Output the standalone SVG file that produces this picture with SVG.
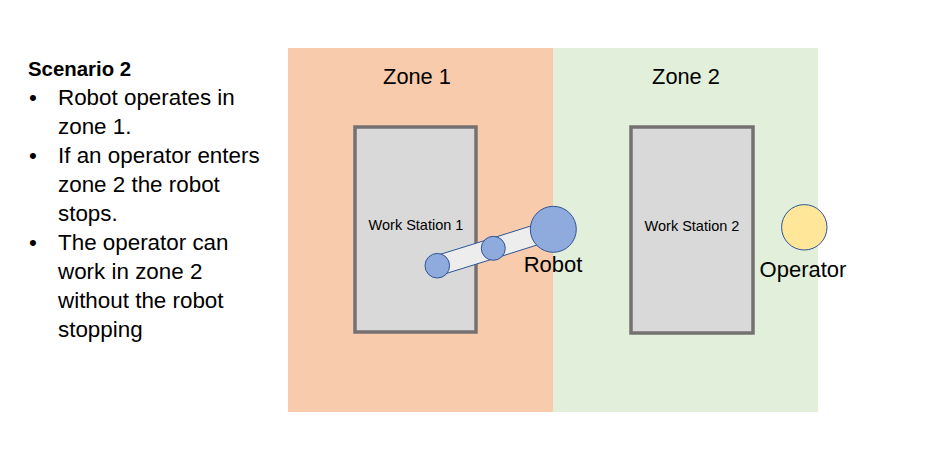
<svg xmlns="http://www.w3.org/2000/svg" width="928" height="458" viewBox="0 0 928 458">
<style>
text{font-family:"Liberation Sans",Arial,sans-serif;fill:#000}
.body{font-size:22.4px}
.head{font-size:20.4px;font-weight:bold}
.zone{font-size:21.8px;text-anchor:middle}
.ws{fill:#D9D9D9;stroke:#767171;stroke-width:3.5}
.wsl{font-size:14.5px;text-anchor:middle}
.joint{fill:#8FAADC;stroke:#2F5597;stroke-width:1}
.bar{fill:#EDEDED;stroke:#2F5597;stroke-width:1}
.lbl{font-size:22px;text-anchor:middle}
</style>
<rect width="928" height="458" fill="#fff"/>
<g id="description">
<text class="head" x="28" y="76">Scenario 2</text>
<text class="body" x="29" y="105">•</text><text class="body" x="58" y="105">Robot operates in</text>
<text class="body" x="58" y="134">zone 1.</text>
<text class="body" x="29" y="163">•</text><text class="body" x="58" y="163">If an operator enters</text>
<text class="body" x="58" y="192">zone 2 the robot</text>
<text class="body" x="58" y="221">stops.</text>
<text class="body" x="29" y="250">•</text><text class="body" x="58" y="250">The operator can</text>
<text class="body" x="58" y="279">work in zone 2</text>
<text class="body" x="58" y="308">without the robot</text>
<text class="body" x="58" y="337">stopping</text>
</g>
<g id="zone1">
<rect x="288" y="48" width="265" height="364" fill="#F8CBAD"/>
<text class="zone" x="417" y="84">Zone 1</text>
</g>
<g id="zone2">
<rect x="553" y="48" width="265" height="364" fill="#E2EFDA"/>
<text class="zone" x="686" y="84">Zone 2</text>
</g>
<g id="workstation1">
<rect class="ws" x="355" y="127" width="121" height="205"/>
<text class="wsl" x="416" y="230">Work Station 1</text>
</g>
<g id="workstation2">
<rect class="ws" x="631" y="127" width="122" height="206"/>
<text class="wsl" x="692" y="231">Work Station 2</text>
</g>
<g id="robot">
<polygon class="bar" points="490.3,238.8 550.3,219.8 556.3,238.9 496.3,257.9"/>
<polygon class="bar" points="434.3,256.2 490.3,238.8 496.3,257.9 440.3,275.3"/>
<circle class="joint" cx="553.3" cy="229.3" r="23"/>
<circle class="joint" cx="493.3" cy="248.3" r="12"/>
<circle class="joint" cx="437.3" cy="265.7" r="12.3"/>
<text class="lbl" x="553" y="272">Robot</text>
</g>
<g id="operator">
<circle cx="804.3" cy="227.3" r="22.7" fill="#FFE699" stroke="#2F5597" stroke-width="1"/>
<text class="lbl" x="803" y="277">Operator</text>
</g>
<g id="connectors"/>
</svg>
